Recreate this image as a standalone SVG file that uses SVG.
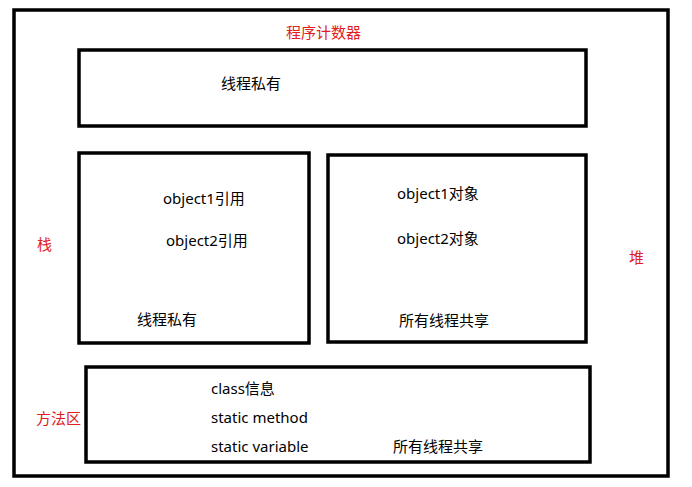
<svg xmlns="http://www.w3.org/2000/svg" width="692" height="487" viewBox="0 0 692 487">
<style>
rect{fill:none;stroke:#000;stroke-width:3.5}
text{font-family:"Noto Sans","Noto Sans CJK SC",sans-serif;font-size:15px;fill:#000}
.r{fill:#e02020}
</style>
<rect x="0" y="0" width="692" height="487" style="fill:#fff;stroke:none"/>
<g id="outer"><rect x="14" y="10" width="654" height="466"/></g>
<g id="pc"><rect x="79" y="50" width="507" height="76"/><text x="221" y="89">线程私有</text></g>
<g id="stack"><rect x="79" y="153" width="230" height="190"/>
<text x="163" y="204">object1引用</text><text x="166" y="246">object2引用</text><text x="137" y="325">线程私有</text></g>
<g id="heap"><rect x="328" y="155" width="258" height="187"/>
<text x="397" y="199">object1对象</text><text x="397" y="244">object2对象</text><text x="399" y="326">所有线程共享</text></g>
<g id="method"><rect x="86" y="367" width="504" height="95"/>
<text x="211" y="394">class信息</text><text x="211" y="423">static method</text><text x="211" y="452">static variable</text><text x="393" y="452">所有线程共享</text></g>
<g id="labels">
<text class="r" x="286" y="38">程序计数器</text>
<text class="r" x="37" y="250">栈</text>
<text class="r" x="629" y="263">堆</text>
<text class="r" x="36" y="424">方法区</text>
</g>
<g id="connectors"></g>
</svg>
